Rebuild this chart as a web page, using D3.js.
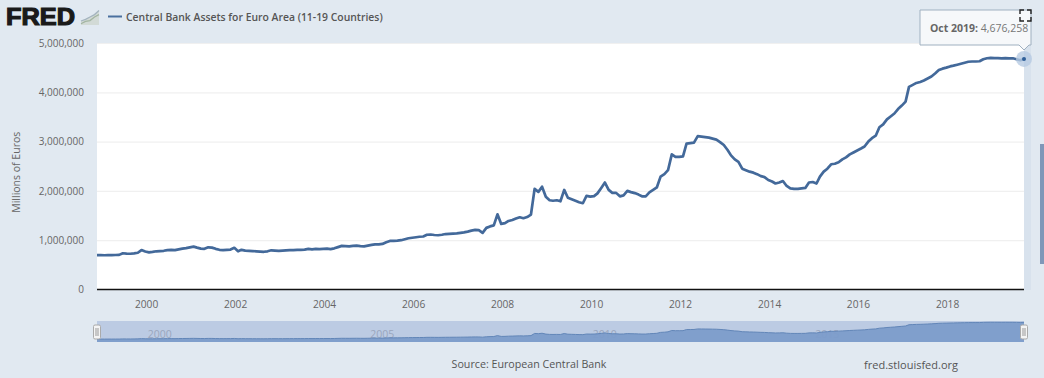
<!DOCTYPE html>
<html><head><meta charset="utf-8">
<script src="https://cdn.jsdelivr.net/npm/d3@7/dist/d3.min.js"></script>
<style>html,body{margin:0;padding:0;background:#e1e9f1;overflow:hidden}svg{display:block}text{font-family:"Open Sans",sans-serif}</style>
</head><body><svg id="c" width="1044" height="378"></svg>
<script>
const seriesName = "Central Bank Assets for Euro Area (11-19 Countries)";
const yTicks = [0,1000000,2000000,3000000,4000000,5000000];
const xTickYears = [2000,2002,2004,2006,2008,2010,2012,2014,2016,2018];
const navTickYears = [2000,2005,2010,2015];
const v1998 = [697];
const v1999 = [696,695,697,698,700,702,735,728,725,733,745,800];
const v2000 = [770,752,762,775,780,785,800,805,798,815,830,840];
const v2001 = [855,870,850,830,825,855,850,825,805,800,805,810];
const v2002 = [845,775,805,790,785,780,775,770,765,775,795,790];
const v2003 = [785,790,795,800,800,805,805,810,825,815,825,820];
const v2004 = [825,830,820,835,860,885,880,875,885,890,880,875];
const v2005 = [890,905,915,915,925,960,985,985,990,1000,1020,1040];
const v2006 = [1050,1060,1070,1075,1110,1115,1105,1100,1110,1125,1130,1135];
const v2007 = [1140,1150,1160,1175,1195,1210,1205,1150,1250,1280,1300,1525];
const v2008 = [1330,1345,1390,1410,1440,1465,1445,1470,1520,2040,1980,2085];
const v2009 = [1880,1810,1800,1810,1790,2020,1860,1830,1800,1770,1750,1900];
const v2010 = [1885,1895,1950,2060,2170,2020,1960,1960,1890,1910,2000,1975];
const v2011 = [1955,1925,1890,1890,1970,2020,2070,2290,2340,2420,2740,2690];
const v2012 = [2690,2700,2960,2970,2980,3110,3100,3090,3080,3060,3040,2990];
const v2013 = [2930,2830,2720,2640,2590,2450,2420,2390,2370,2340,2300,2280];
const v2014 = [2220,2190,2150,2170,2200,2100,2050,2040,2040,2050,2060,2170];
const v2015 = [2180,2150,2290,2390,2450,2540,2550,2580,2640,2680,2740,2780];
const v2016 = [2820,2860,2900,3000,3070,3120,3290,3350,3450,3510,3570,3660];
const v2017 = [3730,3810,4110,4150,4190,4210,4240,4280,4320,4380,4450,4480];
const v2018 = [4500,4525,4540,4560,4580,4600,4620,4625,4625,4630,4670,4690];
const v2019 = [4700,4695,4695,4690,4695,4690,4690,4670,4650,4676.258];
const allValues = [].concat(v1998,v1999,v2000,v2001,v2002,v2003,v2004,v2005,v2006,v2007,v2008,v2009,v2010,v2011,v2012,v2013,v2014,v2015,v2016,v2017,v2018,v2019);
const data = allValues.map((v,i)=>({d:new Date(1998,11+i,1),v:v*1000}));

const L=97,R=1024,T=43,B=289.5, NT=321,NB=342;
const svg=d3.select("#c");
const x=d3.scaleTime().domain([data[0].d,data[data.length-1].d]).range([L,R]);
const y=d3.scaleLinear().domain([0,5000000]).range([B,T]);
const ny=d3.scaleLinear().domain([0,5000000]).range([NB,NT]);

svg.append("rect").attr("x",L).attr("y",T).attr("width",R-L).attr("height",B-T).attr("fill","#fff");

const gy=svg.append("g").attr("transform",`translate(${L},0)`)
 .call(d3.axisLeft(y).tickValues(yTicks).tickFormat(d3.format(",")).tickSize(-(R-L)));
gy.select(".domain").remove();
gy.selectAll("line").attr("stroke","#f0f0f0").attr("stroke-width",1.2);
gy.selectAll("line").filter(d=>d===0).remove();
gy.selectAll("text").attr("fill","#666").style("font-size","10px").attr("x",-13);

const gx=svg.append("g").attr("transform",`translate(0,${B})`)
 .call(d3.axisBottom(x).tickValues(xTickYears.map(t=>new Date(t,0,1))).tickFormat(d3.timeFormat("%Y")).tickSize(0).tickPadding(11));
gx.select(".domain").remove();
gx.selectAll("text").attr("fill","#666").style("font-size","10.2px").attr("dx",0.8);

svg.append("line").attr("x1",L).attr("x2",R).attr("y1",B).attr("y2",B).attr("stroke","#111").attr("stroke-width",1.4);

svg.append("text").attr("transform",`translate(20,${(T+B)/2+6}) rotate(-90)`).attr("text-anchor","middle")
 .attr("fill","#666").style("font-size","10.5px").text("Millions of Euros");

const line=d3.line().x(d=>x(d.d)).y(d=>y(d.v));
svg.append("path").datum(data).attr("d",line).attr("fill","none").attr("stroke","#43699a").attr("stroke-width",2.7).attr("stroke-linejoin","round");

// right strip and scroll bar
svg.append("rect").attr("x",1024).attr("y",43).attr("width",7).attr("height",247).attr("fill","#d8e2ed");
svg.append("rect").attr("x",1040).attr("y",144).attr("width",4).attr("height",120).attr("fill","#7f97b8");

// navigator
svg.append("rect").attr("x",L).attr("y",NT).attr("width",R-L).attr("height",NB-NT).attr("fill","#bccbe3");
svg.append("g").selectAll("text").data(navTickYears).join("text")
 .attr("x",d=>x(new Date(d,0,1))+14.5).attr("y",NB-4).attr("text-anchor","middle").attr("fill","#9aa6bd").style("font-size","10.5px").text(d=>d);
const area=d3.area().x(d=>x(d.d)).y0(NB).y1(d=>ny(d.v));
svg.append("path").datum(data).attr("d",area).attr("fill","#7c9cca").attr("fill-opacity",.95);
svg.append("path").datum(data).attr("d",d3.line().x(d=>x(d.d)).y(d=>ny(d.v))).attr("fill","none").attr("stroke","#6286b8").attr("stroke-width",1);
[L,R].forEach(h=>{
 svg.append("rect").attr("x",h-3.5).attr("y",325).attr("width",7).attr("height",14).attr("rx",1.5).attr("fill","#f4f4f4").attr("stroke","#aaa");
 [-1,1].forEach(o=>svg.append("line").attr("x1",h+o).attr("x2",h+o).attr("y1",328).attr("y2",336).attr("stroke","#999"));
});

// footer
svg.append("text").attr("x",529).attr("y",368).attr("text-anchor","middle").attr("fill","#555").style("font-size","10.7px").text("Source: European Central Bank");
svg.append("text").attr("x",958).attr("y",369).attr("text-anchor","end").attr("fill","#555").style("font-size","11px").text("fred.stlouisfed.org");

// header
svg.append("text").attr("x",6).attr("y",25).attr("fill","#1a1a1a").style("font-family","'Liberation Sans',sans-serif").style("font-weight",700).style("font-size","24px").style("stroke","#1a1a1a").style("stroke-width","1.2px").attr("textLength",69).attr("lengthAdjust","spacingAndGlyphs").text("FRED");
const logoX=d3.scaleLinear().domain([0,4]).range([81,99]);
const logoY=d3.scaleLinear().domain([0,4]).range([25,9]);
const logoA=[1,1.4,2,2.6,3.6], logoB=[0.3,0.9,1.1,2,2.6];
svg.append("path").attr("d",d3.area().x((d,i)=>logoX(i)).y0(logoY(0)).y1(d=>logoY(d))(logoA)).attr("fill","#d2dad6");
[logoA,logoB].forEach((s,k)=>svg.append("path").attr("d",d3.line().x((d,i)=>logoX(i)).y(d=>logoY(d))(s)).attr("fill","none").attr("stroke",k?"#a3b5a2":"#a4b4bf").attr("stroke-width",1.3));
svg.append("line").attr("x1",108).attr("x2",122).attr("y1",16.5).attr("y2",16.5).attr("stroke","#4a709f").attr("stroke-width",2);
svg.append("text").attr("x",126).attr("y",21).attr("fill","#555").style("font-size","10.4px").style("font-weight",600).text(seriesName);

// tooltip
const last=data[data.length-1];
svg.append("circle").attr("cx",x(last.d)).attr("cy",y(last.v)).attr("r",8).attr("fill","#b6cbe2").attr("opacity",.8);
svg.append("circle").attr("cx",x(last.d)).attr("cy",y(last.v)).attr("r",2).attr("fill","#2f5f99");
svg.append("path").attr("d","M920 10H1031V45H1029L1024 50L1019 45H920Z").attr("fill","#f6f8fa").attr("stroke","#9fb0c0");
const tt=svg.append("text").attr("x",930).attr("y",32).style("font-size","10.5px").attr("fill","#777");
tt.append("tspan").style("font-weight",700).attr("fill","#666").text("Oct 2019: ");
tt.append("tspan").text(d3.format(",")(Math.round(last.v)));

// fullscreen icon
const fs=[[1020,14,1020,10,1024,10],[1027,10,1031,10,1031,14],[1031,17,1031,21,1027,21],[1024,21,1020,21,1020,17]];
fs.forEach(p=>svg.append("path").attr("d",`M${p[0]} ${p[1]}L${p[2]} ${p[3]}L${p[4]} ${p[5]}`).attr("fill","none").attr("stroke","#222").attr("stroke-width",1.4));
</script></body></html>
